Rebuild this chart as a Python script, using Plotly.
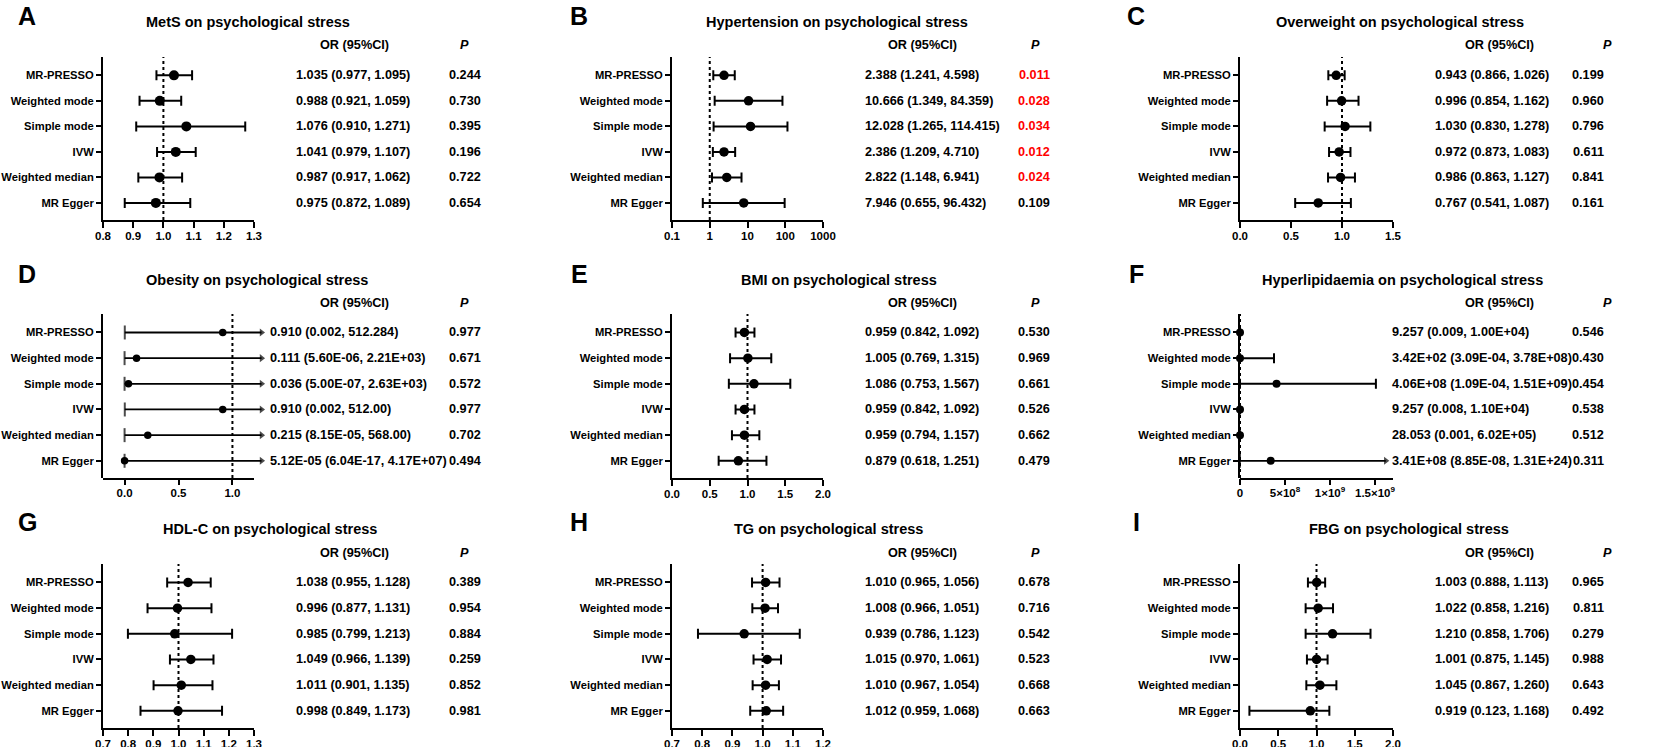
import plotly.graph_objects as go

W, H = 1654, 747
FONT = "Liberation Sans, Arial, sans-serif"

METHODS = ["MR-PRESSO", "Weighted mode", "Simple mode", "IVW", "Weighted median", "MR Egger"]

# ---------------- data (top-to-bottom order = METHODS) ----------------
A_OR = ["1.035", "0.988", "1.076", "1.041", "0.987", "0.975"]
A_LO = ["0.977", "0.921", "0.910", "0.979", "0.917", "0.872"]
A_HI = ["1.095", "1.059", "1.271", "1.107", "1.062", "1.089"]
A_P = ["0.244", "0.730", "0.395", "0.196", "0.722", "0.654"]

B_OR = ["2.388", "10.666", "12.028", "2.386", "2.822", "7.946"]
B_LO = ["1.241", "1.349", "1.265", "1.209", "1.148", "0.655"]
B_HI = ["4.598", "84.359", "114.415", "4.710", "6.941", "96.432"]
B_P = ["0.011", "0.028", "0.034", "0.012", "0.024", "0.109"]

C_OR = ["0.943", "0.996", "1.030", "0.972", "0.986", "0.767"]
C_LO = ["0.866", "0.854", "0.830", "0.873", "0.863", "0.541"]
C_HI = ["1.026", "1.162", "1.278", "1.083", "1.127", "1.087"]
C_P = ["0.199", "0.960", "0.796", "0.611", "0.841", "0.161"]

D_OR = ["0.910", "0.111", "0.036", "0.910", "0.215", "5.12E-05"]
D_LO = ["0.002", "5.60E-06", "5.00E-07", "0.002", "8.15E-05", "6.04E-17"]
D_HI = ["512.284", "2.21E+03", "2.63E+03", "512.00", "568.00", "4.17E+07"]
D_P = ["0.977", "0.671", "0.572", "0.977", "0.702", "0.494"]

E_OR = ["0.959", "1.005", "1.086", "0.959", "0.959", "0.879"]
E_LO = ["0.842", "0.769", "0.753", "0.842", "0.794", "0.618"]
E_HI = ["1.092", "1.315", "1.567", "1.092", "1.157", "1.251"]
E_P = ["0.530", "0.969", "0.661", "0.526", "0.662", "0.479"]

F_OR = ["9.257", "3.42E+02", "4.06E+08", "9.257", "28.053", "3.41E+08"]
F_LO = ["0.009", "3.09E-04", "1.09E-04", "0.008", "0.001", "8.85E-08"]
F_HI = ["1.00E+04", "3.78E+08", "1.51E+09", "1.10E+04", "6.02E+05", "1.31E+24"]
F_P = ["0.546", "0.430", "0.454", "0.538", "0.512", "0.311"]

G_OR = ["1.038", "0.996", "0.985", "1.049", "1.011", "0.998"]
G_LO = ["0.955", "0.877", "0.799", "0.966", "0.901", "0.849"]
G_HI = ["1.128", "1.131", "1.213", "1.139", "1.135", "1.173"]
G_P = ["0.389", "0.954", "0.884", "0.259", "0.852", "0.981"]

H_OR = ["1.010", "1.008", "0.939", "1.015", "1.010", "1.012"]
H_LO = ["0.965", "0.966", "0.786", "0.970", "0.967", "0.959"]
H_HI = ["1.056", "1.051", "1.123", "1.061", "1.054", "1.068"]
H_P = ["0.678", "0.716", "0.542", "0.523", "0.668", "0.663"]

I_OR = ["1.003", "1.022", "1.210", "1.001", "1.045", "0.919"]
I_LO = ["0.888", "0.858", "0.858", "0.875", "0.867", "0.123"]
I_HI = ["1.113", "1.216", "1.706", "1.145", "1.260", "1.168"]
I_P = ["0.965", "0.811", "0.279", "0.988", "0.643", "0.492"]

TITLES = ["MetS on psychological stress", "Hypertension on psychological stress",
          "Overweight on psychological stress", "Obesity on psychological stress",
          "BMI on psychological stress", "Hyperlipidaemia on psychological stress",
          "HDL-C on psychological stress", "TG on psychological stress",
          "FBG on psychological stress"]
LETTERS = ["A", "B", "C", "D", "E", "F", "G", "H", "I"]

TICKS_A = [0.8, 0.9, 1.0, 1.1, 1.2, 1.3]
TICKS_B = [0.1, 1, 10, 100, 1000]
TICKS_C = [0.0, 0.5, 1.0, 1.5]
TICKS_D = [0.0, 0.5, 1.0]
TICKS_E = [0.0, 0.5, 1.0, 1.5, 2.0]
TICKS_F = [0, 5e8, 1e9, 1.5e9]
TICKTEXT_F = ["0", "5×10<sup>8</sup>", "1×10<sup>9</sup>", "1.5×10<sup>9</sup>"]
TICKS_G = [0.7, 0.8, 0.9, 1.0, 1.1, 1.2, 1.3]
TICKS_H = [0.7, 0.8, 0.9, 1.0, 1.1, 1.2]
TICKS_I = [0.0, 0.5, 1.0, 1.5, 2.0]

DATA = [
    (A_OR, A_LO, A_HI, A_P), (B_OR, B_LO, B_HI, B_P), (C_OR, C_LO, C_HI, C_P),
    (D_OR, D_LO, D_HI, D_P), (E_OR, E_LO, E_HI, E_P), (F_OR, F_LO, F_HI, F_P),
    (G_OR, G_LO, G_HI, G_P), (H_OR, H_LO, H_HI, H_P), (I_OR, I_LO, I_HI, I_P),
]

# ---------------- layout / style config ----------------
# range = visible axis extent; tip = where truncated CIs end (arrow), ext = plotting extent
AXES = [
    dict(type="linear", range=[0.8, 1.3], ticks=TICKS_A, fmt="{:.1f}", ms=10),
    dict(type="log", range=[-1, 3], ticks=TICKS_B, fmt="{:g}", ms=9.5),
    dict(type="linear", range=[0, 1.5], ticks=TICKS_C, fmt="{:.1f}", ms=9.5),
    dict(type="linear", range=[-0.2, 1.2], ticks=TICKS_D, fmt="{:.1f}", ms=7.5,
         tip=1.27, ext=1.33),
    dict(type="linear", range=[0, 2.0], ticks=TICKS_E, fmt="{:.1f}", ms=9.5),
    dict(type="linear", range=[0, 1.7e9], ticks=TICKS_F, text=TICKTEXT_F, ms=8,
         tip=1.62e9, ext=1.76e9),
    dict(type="linear", range=[0.7, 1.3], ticks=TICKS_G, fmt="{:.1f}", ms=9.5),
    dict(type="linear", range=[0.7, 1.2], ticks=TICKS_H, fmt="{:.1f}", ms=9.5),
    dict(type="linear", range=[0, 2.0], ticks=TICKS_I, fmt="{:.1f}", ms=9.5),
]

ROW_TOP = [57, 314, 564]
ROW_BOT = [220, 478, 728]
TITLE_Y = [22, 280, 529]
HEAD_Y = [45, 303, 553]
LETTER_Y = [16, 274, 522]
COL_X0 = [103, 672, 1240]
COL_X1 = [254, 823, 1393]
OR_HEAD_X = [354, 922, 1499]
P_HEAD_X = [464, 1035, 1607]
P_X = [465, 1034, 1588]
LETTER_X = [27, 579, 1136]
TITLE_X = [248, 837, 1400, 257, 839, 1402, 270, 829, 1409]
OR_TEXT_X = [294, 863, 1433, 268, 863, 1390, 294, 863, 1433]
YR = [-0.67, 5.72]

BLACK = "#000000"
RED = "#FF0000"
LABEL_FONT = dict(family=FONT, size=11.2, color=BLACK, weight="bold")


def px(v):
    return v / W


def py(v):
    return 1 - v / H


fig = go.Figure()
annotations = []
shapes = []

for i, (ors, los, his, ps) in enumerate(DATA):
    r, c = divmod(i, 3)
    n = i + 1
    sfx = "" if n == 1 else str(n)
    xr, yr = "x" + sfx, "y" + sfx
    cfg = AXES[i]

    orv = [float(v) for v in ors]
    lov = [float(v) for v in los]
    hiv = [float(v) for v in his]
    idx = list(range(len(METHODS) - 1, -1, -1))  # top row = highest index

    r0, r1 = cfg["range"]
    xmax = 10 ** r1 if cfg["type"] == "log" else r1
    trunc = [h > xmax for h in hiv]

    # plotting extent (extended to make room for arrow heads of truncated CIs)
    x0p, x1p = COL_X0[c], COL_X1[c]
    if "ext" in cfg:
        ext = cfg["ext"]
        x1p_plot = x0p + (ext - r0) / (r1 - r0) * (x1p - x0p)
        prange = [r0, ext]
    else:
        x1p_plot = x1p
        prange = [r0, r1]

    # reference line at OR = 1
    shapes.append(dict(type="line", xref=xr, yref=yr + " domain", x0=1, x1=1, y0=0, y1=1,
                       line=dict(color=BLACK, width=2, dash="dot"), layer="below"))

    norm = [k for k in range(6) if not trunc[k]]
    tr = [k for k in range(6) if trunc[k]]

    if norm:
        fig.add_trace(go.Scatter(
            x=[orv[k] for k in norm], y=[idx[k] for k in norm], mode="markers",
            xaxis=xr, yaxis=yr, cliponaxis=False, showlegend=False,
            marker=dict(color=BLACK, size=cfg["ms"]),
            error_x=dict(type="data", symmetric=False,
                         array=[hiv[k] - orv[k] for k in norm],
                         arrayminus=[orv[k] - lov[k] for k in norm],
                         color=BLACK, thickness=2, width=5),
        ))
    for k in tr:
        # truncated CI: line from lower bound out past the axis end, with arrow head
        fig.add_trace(go.Scatter(
            x=[lov[k], cfg["tip"]], y=[idx[k], idx[k]], mode="lines+markers",
            xaxis=xr, yaxis=yr, cliponaxis=False, showlegend=False,
            line=dict(color=BLACK, width=1.8),
            marker=dict(symbol=["line-ns", "triangle-right"], size=[10, 7],
                        color=BLACK, line=dict(color=BLACK, width=[2, 0])),
        ))
    if tr:
        fig.add_trace(go.Scatter(
            x=[orv[k] for k in tr], y=[idx[k] for k in tr], mode="markers",
            xaxis=xr, yaxis=yr, cliponaxis=False, showlegend=False,
            marker=dict(color=BLACK, size=cfg["ms"]),
        ))

    if "text" in cfg:
        ticktext = cfg["text"]
    else:
        ticktext = [cfg["fmt"].format(t) for t in cfg["ticks"]]

    ext_mode = "ext" in cfg
    if ext_mode:
        # x-axis line only over the visible axis extent
        shapes.append(dict(type="line", xref=xr, yref=yr + " domain", x0=r0, x1=r1,
                           y0=-0.006, y1=-0.006, line=dict(color=BLACK, width=2)))

    fig.update_layout({
        "xaxis" + sfx: dict(
            domain=[px(x0p), px(x1p_plot)], anchor=yr, type=cfg["type"],
            range=prange, tickvals=cfg["ticks"], ticktext=ticktext,
            showline=not ext_mode, linewidth=2, linecolor=BLACK, ticks="outside",
            ticklen=6, tickwidth=2, tickcolor=BLACK, showgrid=False, zeroline=False,
            tickfont=dict(family=FONT, size=11.5, color=BLACK, weight="bold"),
            ticklabelstandoff=-2,
            fixedrange=True, automargin=False,
        ),
        "yaxis" + sfx: dict(
            domain=[py(ROW_BOT[r]), py(ROW_TOP[r])], anchor=xr, range=YR,
            tickvals=idx, ticktext=METHODS,
            showline=True, linewidth=2, linecolor=BLACK, ticks="outside",
            ticklen=5, tickwidth=2, tickcolor=BLACK, showgrid=False, zeroline=False,
            tickfont=LABEL_FONT, fixedrange=True, automargin=False,
        ),
    })

    # panel letter
    annotations.append(dict(x=px(LETTER_X[c]), y=py(LETTER_Y[r]), xref="paper", yref="paper",
                            text=LETTERS[i], showarrow=False, xanchor="center", yanchor="middle",
                            font=dict(family=FONT, size=25, color=BLACK, weight="bold")))
    # title
    annotations.append(dict(x=px(TITLE_X[i]), y=py(TITLE_Y[r]), xref="paper", yref="paper",
                            text=TITLES[i], showarrow=False, xanchor="center", yanchor="middle",
                            font=dict(family=FONT, size=14.5, color=BLACK, weight="bold")))
    # headers
    annotations.append(dict(x=px(OR_HEAD_X[c]), y=py(HEAD_Y[r]), xref="paper", yref="paper",
                            text="OR (95%CI)", showarrow=False, xanchor="center", yanchor="middle",
                            font=dict(family=FONT, size=12.7, color=BLACK, weight="bold")))
    annotations.append(dict(x=px(P_HEAD_X[c]), y=py(HEAD_Y[r]), xref="paper", yref="paper",
                            text="<i>P</i>", showarrow=False, xanchor="center", yanchor="middle",
                            font=dict(family=FONT, size=12.7, color=BLACK, weight="bold")))
    # OR text and P values
    for k in range(6):
        annotations.append(dict(x=px(OR_TEXT_X[i]), y=idx[k], xref="paper", yref=yr,
                                text=f"{ors[k]} ({los[k]}, {his[k]})", showarrow=False,
                                xanchor="left", yanchor="middle",
                                font=dict(family=FONT, size=12.7, color=BLACK, weight="bold")))
        pcol = RED if float(ps[k]) < 0.05 else BLACK
        annotations.append(dict(x=px(P_X[c]), y=idx[k], xref="paper", yref=yr,
                                text=ps[k], showarrow=False, xanchor="center", yanchor="middle",
                                font=dict(family=FONT, size=12.7, color=pcol, weight="bold")))

fig.update_layout(
    width=W, height=H, margin=dict(l=0, r=0, t=0, b=0, autoexpand=False),
    paper_bgcolor="white", plot_bgcolor="white",
    annotations=annotations, shapes=shapes, showlegend=False,
    font=dict(family=FONT, color=BLACK),
)

fig.write_html("out.html", config={"displayModeBar": False},
               post_script="document.body.style.margin='0';document.body.style.overflow='hidden';")
